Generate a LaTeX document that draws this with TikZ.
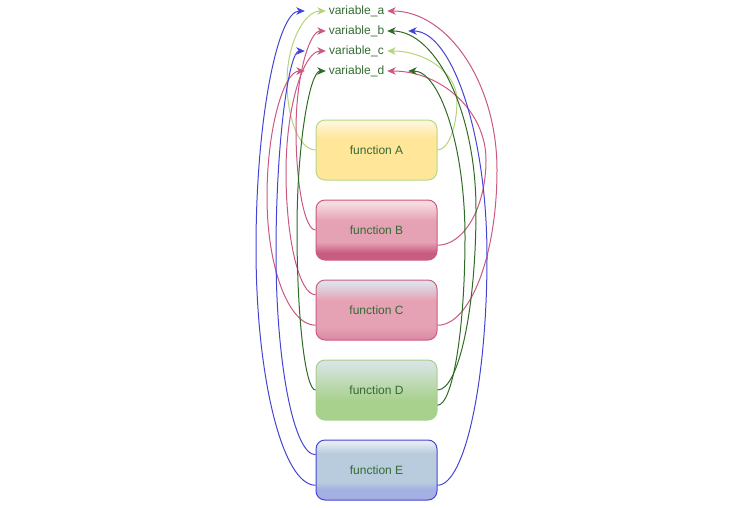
\documentclass[tikz,border=0pt]{standalone}
\usepackage{fontspec}
\setmainfont{Liberation Sans}
\usetikzlibrary{calc,arrows.meta}
\definecolor{txt}{HTML}{336B33}
\definecolor{lylw}{HTML}{B5D47A}
\definecolor{lpnk}{HTML}{CB5880}
\definecolor{lblu}{HTML}{4444D4}
\definecolor{lgrn}{HTML}{2F6B25}
\definecolor{bA}{HTML}{B5D88A}
\definecolor{bB}{HTML}{CC5A80}
\definecolor{bC}{HTML}{CE5C86}
\definecolor{bD}{HTML}{A8D08C}
\definecolor{bE}{HTML}{4646D6}
\definecolor{aBot}{HTML}{FFE699}
\definecolor{aTop}{HTML}{FFF6DA}
\definecolor{pDark}{HTML}{C95C82}
\definecolor{pMid}{HTML}{E6A2B5}
\definecolor{pTop}{HTML}{F5DADF}
\definecolor{cBot}{HTML}{DA88A2}
\definecolor{cTop}{HTML}{DCE2EA}
\definecolor{dBot}{HTML}{A9D18E}
\definecolor{dTop}{HTML}{D9E4E4}
\definecolor{eBot}{HTML}{A4B0E2}
\definecolor{eMid}{HTML}{B8CCDD}
\definecolor{eTop}{HTML}{E6ECF4}
\pgfdeclareverticalshading{shA}{100bp}{color(0bp)=(aBot); color(25bp)=(aBot); color(60bp)=(aBot); color(73bp)=(aTop); color(100bp)=(aTop)}
\pgfdeclareverticalshading{shB}{100bp}{color(0bp)=(pDark); color(25bp)=(pDark); color(31bp)=(pDark); color(40bp)=(pMid); color(58bp)=(pMid); color(72bp)=(pTop); color(100bp)=(pTop)}
\pgfdeclareverticalshading{shC}{100bp}{color(0bp)=(cBot); color(25bp)=(cBot); color(36bp)=(pMid); color(58bp)=(pMid); color(73bp)=(cTop); color(100bp)=(cTop)}
\pgfdeclareverticalshading{shD}{100bp}{color(0bp)=(dBot); color(25bp)=(dBot); color(42bp)=(dBot); color(73bp)=(dTop); color(100bp)=(dTop)}
\pgfdeclareverticalshading{shE}{100bp}{color(0bp)=(eBot); color(25bp)=(eBot); color(34bp)=(eBot); color(40bp)=(eMid); color(64bp)=(eMid); color(73bp)=(eTop); color(100bp)=(eTop)}
\tikzset{
  fbox/.style={rounded corners=9pt, minimum width=121pt, minimum height=60pt, inner sep=0pt, line width=1pt, text=txt, font=\fontsize{12}{14}\selectfont},
  varlbl/.style={minimum width=61pt, minimum height=18pt, inner sep=0pt, text=txt, font=\fontsize{12}{14}\selectfont},
  edge/.style={line width=1pt, -{Stealth[length=8.5pt,width=7.5pt,inset=2.5pt]}},
  ylwe/.style={edge, draw=lylw, fill=none},
  pnke/.style={edge, draw=lpnk},
  blue/.style={edge, draw=lblu},
  grne/.style={edge, draw=lgrn}
}
\newcommand\conn[4]{\draw[#1] let \p1=(#2), \p2=(#3), \p3=(#4) in (\p1) .. controls ({\x1+0.55*(\x2-\x1)},\y1) and (\x2,{\y2+0.55*(\y1-\y2)}) .. (\p2) .. controls (\x2,{\y2+0.55*(\y3-\y2)}) and ({\x3+0.55*(\x2-\x3)},\y3) .. (\p3);}
\begin{document}
\begin{tikzpicture}[x=1pt,y=-1pt]
\useasboundingbox (0,0) rectangle (754,508);
% variable labels
\node[varlbl] (va) at (356.5,11) {variable\_a};
\node[varlbl] (vb) at (356.5,31) {variable\_b};
\node[varlbl] (vc) at (356.5,51) {variable\_c};
\node[varlbl] (vd) at (356.5,71) {variable\_d};
\coordinate (va-lo) at ([xshift=-21pt]va.west);
\coordinate (vc-lo) at ([xshift=-21pt]vc.west);
\coordinate (vd-lo) at ([xshift=-21pt]vd.west);
\coordinate (vb-ro) at ([xshift=21pt]vb.east);
\coordinate (vd-ro) at ([xshift=21pt]vd.east);
% function boxes
\node[fbox, draw=bA, shading=shA] (A) at (376.5,150) {function A};
\node[fbox, draw=bB, shading=shB] (B) at (376.5,230) {function B};
\node[fbox, draw=bC, shading=shC] (C) at (376.5,310) {function C};
\node[fbox, draw=bD, shading=shD] (D) at (376.5,390) {function D};
\node[fbox, draw=bE, shading=shE] (E) at (376.5,470) {function E};
\coordinate (B-el) at ($(B.north east)!0.75!(B.south east)$);
\coordinate (C-wu) at ($(C.north west)!0.25!(C.south west)$);
\coordinate (C-wl) at ($(C.north west)!0.75!(C.south west)$);
\coordinate (C-el) at ($(C.north east)!0.75!(C.south east)$);
\coordinate (D-el) at ($(D.north east)!0.75!(D.south east)$);
\coordinate (E-wu) at ($(E.north west)!0.25!(E.south west)$);
\coordinate (E-wl) at ($(E.north west)!0.75!(E.south west)$);
\coordinate (E-el) at ($(E.north east)!0.75!(E.south east)$);
% left connectors
\conn{ylwe}{A.west}{287,82}{va.west}
\conn{pnke}{B.west}{296,130}{vb.west}
\conn{pnke}{C-wu}{286,172}{vc.west}
\conn{pnke}{C-wl}{267,197}{vd-lo}
\conn{grne}{D.west}{297,230}{vd.west}
\conn{blue}{E-wu}{276,252}{vc-lo}
\conn{blue}{E-wl}{256,248}{va-lo}
% right connectors
\conn{ylwe}{A.east}{457,100}{vc.east}
\conn{pnke}{B-el}{486,160}{vd.east}
\conn{pnke}{C-el}{497,170}{va.east}
\conn{grne}{D.east}{476,210}{vb.east}
\conn{grne}{D-el}{465,237}{vd-ro}
\conn{blue}{E-el}{487,257}{vb-ro}
\end{tikzpicture}
\end{document}
